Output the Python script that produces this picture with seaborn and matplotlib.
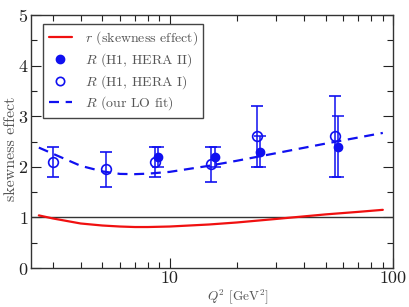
import numpy as np
import pandas as pd
import matplotlib
matplotlib.use("Agg")
import matplotlib.pyplot as plt
from matplotlib.lines import Line2D
import seaborn as sns

# data
q2_fit = [2.6, 3, 4, 5, 6, 7, 8, 10, 15, 20, 30, 50, 70, 90]
R_fit = [2.38, 2.26, 2.02, 1.91, 1.86, 1.855, 1.865, 1.9, 2.02, 2.12, 2.27, 2.46, 2.58, 2.67]

q2_r = [2.6, 3, 4, 5, 6, 7, 8, 10, 15, 20, 30, 50, 70, 90]
r_skew = [1.04, 0.98, 0.88, 0.84, 0.82, 0.81, 0.81, 0.82, 0.86, 0.9, 0.97, 1.06, 1.11, 1.15]

q2_hera1 = [3.0, 5.2, 8.6, 15.3, 24.7, 55.0]
R_hera1 = [2.1, 1.95, 2.1, 2.05, 2.6, 2.6]
lo_hera1 = [1.8, 1.6, 1.8, 1.7, 2.0, 1.8]
hi_hera1 = [2.4, 2.3, 2.4, 2.4, 3.2, 3.4]

q2_hera2 = [8.9, 15.9, 25.5, 57.0]
R_hera2 = [2.2, 2.2, 2.3, 2.4]
lo_hera2 = [2.0, 2.0, 2.0, 1.8]
hi_hera2 = [2.4, 2.4, 2.6, 3.0]

labels = [r'$r$ (skewness effect)', r'$R$ (H1, HERA II)',
          r'$R$ (H1, HERA I)', r'$R$ (our LO fit)']

sns.set_style("ticks")
plt.rcParams['font.family'] = ['cmr10', 'DejaVu Serif']
plt.rcParams['mathtext.fontset'] = 'cm'
plt.rcParams['axes.formatter.use_mathtext'] = True

blue = '#1010f0'
red = '#f01010'
dash = (0, (4.5, 3))

fig, ax = plt.subplots(figsize=(4.09, 3.07), dpi=100)

ax.axhline(1, color='#333333', lw=1.0, zorder=1)

sns.lineplot(x=q2_r, y=r_skew, ax=ax, color=red, lw=1.6, sort=False)

e2 = [np.array(R_hera2) - np.array(lo_hera2), np.array(hi_hera2) - np.array(R_hera2)]
ax.errorbar(q2_hera2, R_hera2, yerr=e2, fmt='o', color=blue, ms=6,
            capsize=4, elinewidth=1.1, capthick=1.1)

e1 = [np.array(R_hera1) - np.array(lo_hera1), np.array(hi_hera1) - np.array(R_hera1)]
ax.errorbar(q2_hera1, R_hera1, yerr=e1, fmt='o', mfc='none', mec=blue, mew=1.2,
            color=blue, ms=7, capsize=4, elinewidth=1.1, capthick=1.1)

sns.lineplot(x=q2_fit, y=R_fit, ax=ax, color=blue, lw=1.6, sort=False)
ax.lines[-1].set_linestyle(dash)

ax.set_xscale('log')
ax.set_xlim(2.4, 100)
ax.set_ylim(0, 5)
ax.set_yticks([0, 1, 2, 3, 4, 5])
ax.set_yticks(np.arange(0, 5, 0.5), minor=True)
ax.set_xticks([10, 100])
ax.set_xticklabels(['10', '100'])
ax.tick_params(which='both', direction='in', top=True, right=True, labelsize=13,
               colors='#222222', pad=2)
ax.tick_params(which='major', length=7, width=0.8)
ax.tick_params(which='minor', length=4, width=0.8)
for s in ax.spines.values():
    s.set_color('#333333')
    s.set_linewidth(1.0)

ax.set_xlabel(r'$Q^2$ [GeV$^2$]', fontsize=9.5, color='#555555')
ax.xaxis.set_label_coords(0.57, -0.074)
ax.set_ylabel('skewness effect', fontsize=11.5, color='#555555')
ax.yaxis.set_label_coords(-0.037, 0.47)

handles = [
    Line2D([], [], color=red, lw=1.6),
    Line2D([], [], color=blue, marker='o', ls='none', ms=6),
    Line2D([], [], color=blue, marker='o', ls='none', ms=6, mfc='none', mew=1.2),
    Line2D([], [], color=blue, lw=1.6, ls=dash),
]
leg = ax.legend(handles, labels, loc='upper left', bbox_to_anchor=(0.033, 0.964),
                borderaxespad=0, fontsize=10, frameon=True,
                fancybox=False, edgecolor='#444444', framealpha=1,
                handlelength=1.7, labelspacing=0.28,
                borderpad=0.4, handletextpad=0.9)
leg.get_frame().set_linewidth(1.0)
for t in leg.get_texts():
    t.set_color('#555555')

fig.subplots_adjust(left=0.076, right=0.961, top=0.951, bottom=0.127)
fig.savefig('out.png', dpi=100)
